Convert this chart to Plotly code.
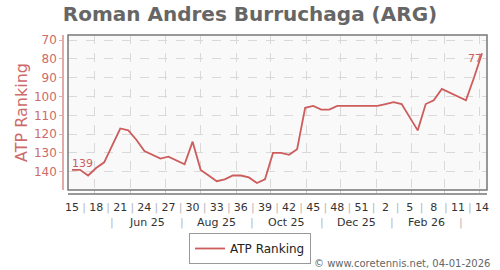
import plotly.graph_objects as go
from datetime import date

# ---------------- data ----------------
weeks = list(range(15, 53)) + list(range(1, 15))          # ISO week of each ranking
ranks = [139, 139, 142, 138, 135, 126, 117, 118, 123, 129,
         131, 133, 132, 134, 136, 124, 139, 142, 145, 144,
         142, 142, 143, 146, 144, 130, 130, 131, 128, 106,
         105, 107, 107, 105, 105, 105, 105, 105, 105, 104,
         103, 104, 111, 118, 104, 102, 96, 98, 100, 102,
         90, 77]
week_tick_labels = [str(w) for w in weeks[::3]]
month_labels = ["Jun 25", "Aug 25", "Oct 25", "Dec 25", "Feb 26"]
month_label_dates = [date(2025, 6, 15), date(2025, 8, 15), date(2025, 10, 15),
                     date(2025, 12, 15), date(2026, 2, 14)]
month_sep_dates = [date(2025, 5, 16), date(2025, 7, 16), date(2025, 9, 15),
                   date(2025, 11, 15), date(2026, 1, 15), date(2026, 3, 16)]
month_starts = [date(2025, m, 1) for m in range(5, 13)] + [date(2026, m, 1) for m in range(1, 5)]
y_ticks = [70, 80, 90, 100, 110, 120, 130, 140]

start = date(2025, 4, 11)
def pos(d):
    return (d - start).days / 7.0

x = list(range(len(ranks)))

# ---------------- geometry helpers ----------------
W, H = 500, 270
L, R, T, B = 63, 13, 35, 75
PW, PH = W - L - R, H - T - B
def px_x(p):
    return (p - L) / PW
def px_y(p):
    return (H - B - p) / PH

LINE = "#cd5c5c"
PINK = "#cd6a6a"

sep = '<span style="color:#b8b8b8">|</span>'
tickvals, ticktext = [], []
for i, lab in zip(range(0, len(ranks), 3), week_tick_labels):
    tickvals.append(i)
    ticktext.append(lab)
    if i + 3 < len(ranks):
        tickvals.append(i + 1.5)
        ticktext.append(sep)

text = [""] * len(ranks)
text[0] = str(ranks[0])
text[-1] = str(ranks[-1])
tpos = ["middle center"] * len(ranks)
tpos[0] = "top right"
tpos[-1] = "bottom left"

fig = go.Figure()
fig.add_trace(go.Scatter(
    x=x, y=ranks, mode="lines+text", name="ATP Ranking",
    line=dict(color=LINE, width=1.8),
    text=text, textposition=tpos,
    textfont=dict(family="DejaVu Sans", size=11, color=LINE),
    hoverinfo="skip", cliponaxis=False,
))

annotations = []
for lab, d in zip(month_labels, month_label_dates):
    annotations.append(dict(x=pos(d), y=px_y(222), xref="x", yref="paper",
                            text=lab, showarrow=False, yanchor="middle",
                            font=dict(family="DejaVu Sans", size=11, color="#333")))
for d in month_sep_dates:
    annotations.append(dict(x=pos(d), y=px_y(222), xref="x", yref="paper",
                            text="|", showarrow=False, yanchor="middle",
                            font=dict(family="DejaVu Sans", size=11, color="#b8b8b8")))
annotations.append(dict(x=px_x(492), y=px_y(263), xref="paper", yref="paper",
                        text="© www.coretennis.net, 04-01-2026", showarrow=False,
                        xanchor="right", yanchor="middle",
                        font=dict(family="DejaVu Sans", size=10, color="#666")))

fig.update_layout(
    width=W, height=H,
    margin=dict(l=L, r=R, t=T, b=B, pad=0),
    paper_bgcolor="white",
    plot_bgcolor="#f9f9f9",
    title=dict(text="<b>Roman Andres Burruchaga (ARG)</b>", x=0.5, xref="container",
               y=1 - 14 / H, yref="container", xanchor="center", yanchor="middle",
               font=dict(family="DejaVu Sans", size=20, color="#666")),
    showlegend=True,
    legend=dict(orientation="h", x=0.5, xref="container", xanchor="center",
                y=1 - 233 / H, yref="container", yanchor="top",
                bordercolor="#999", borderwidth=1, bgcolor="white",
                font=dict(family="DejaVu Sans", size=12, color="#222")),
    annotations=annotations,
    xaxis=dict(
        domain=[px_x(68), 1], anchor="free", position=px_y(194),
        range=[-0.5, 51.62], showline=True, linecolor="#999", linewidth=1.5,
        tickmode="array", tickvals=tickvals, ticktext=ticktext, ticks="",
        ticklabelstandoff=3,
        showgrid=False, zeroline=False,
        tickfont=dict(family="DejaVu Sans", size=11, color="#333"),
        minor=dict(tickmode="array", tickvals=[pos(d) for d in month_starts],
                   showgrid=True, gridcolor="#d9d9d9", griddash="dash", gridwidth=1,
                   ticks="inside", ticklen=3, tickcolor="#cccccc"),
    ),
    yaxis=dict(
        domain=[px_y(190), 1], anchor="free", position=0,
        range=[149.7, 67.3], showline=True, linecolor="#e3aaaa", linewidth=1.5,
        tickmode="array", tickvals=y_ticks, ticks="outside", ticklen=3,
        tickcolor="#e3aaaa", showgrid=True, gridcolor="#d9d9d9", griddash="dash",
        zeroline=False,
        tickfont=dict(family="DejaVu Sans", size=12, color=PINK),
        title=dict(text="ATP Ranking", standoff=1,
                   font=dict(family="DejaVu Sans", size=16, color=PINK)),
    ),
    shapes=[dict(type="rect", xref="x domain", yref="y domain", x0=0, x1=1, y0=0, y1=1,
                 line=dict(color="#777", width=1.5), layer="above")],
)

fig.write_html("out.html")
